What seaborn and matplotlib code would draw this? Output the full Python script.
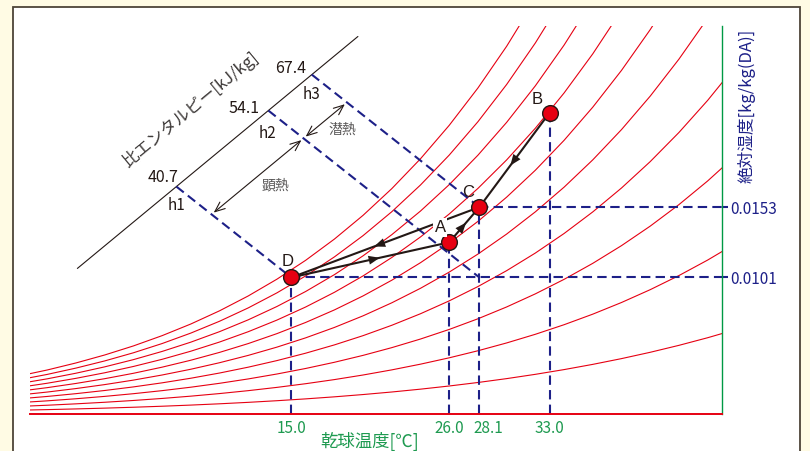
import numpy as np
import pandas as pd
import matplotlib
matplotlib.use('Agg')
import matplotlib.pyplot as plt
from matplotlib.patches import Rectangle
from matplotlib.transforms import ScaledTranslation
import seaborn as sns

# saturation vapour pressure over water [kPa] at dry-bulb temperature [C]
temp_table = [-4, -2, 0, 2, 4, 6, 8, 10, 12, 14, 16, 18, 20, 22, 24, 26, 28, 30, 32,
              34, 36, 38, 40, 42, 44, 46]
p_sat = [0.4547, 0.5276, 0.6113, 0.7060, 0.8135, 0.9353, 1.0729, 1.2281, 1.4027, 1.5989,
         1.8187, 2.0644, 2.3388, 2.6447, 2.9850, 3.3629, 3.7818, 4.2455, 4.7578, 5.3229,
         5.9453, 6.6298, 7.3814, 8.2054, 9.1075, 10.094]
rh_levels = [10, 20, 30, 40, 50, 60, 70, 80, 90, 100]

# state points
point_names = ['A', 'B', 'C', 'D']
point_temp = [26.0, 33.0, 28.1, 15.0]
point_hum = [0.0127, 0.0223, 0.0153, 0.0101]

# process lines (from, to)
process = [('D', 'A'), ('A', 'C'), ('B', 'C'), ('C', 'D')]

# specific enthalpy lines, and the state each one runs through (temperature of, humidity of)
enthalpy_values = [40.7, 54.1, 67.4]
enthalpy_names = ['h1', 'h2', 'h3']
enthalpy_through = [('D', 'D'), ('C', 'D'), ('C', 'C')]
heat_names = ['顕熱', '潜熱']

x_ticks = [15.0, 26.0, 28.1, 33.0]
y_ticks = [0.0101, 0.0153]

# colours / layout
RED = '#E60012'
NAVY = '#1D2088'
GREEN = '#1E9A50'
INK = '#231815'
GREY = '#595757'
CREAM = '#FFFBE4'
P_ATM = 101.325
X_LIM = (-3.2, 45.0)
Y_LIM = (0.0, 0.0287)
ENTH_AXIS_A, ENTH_AXIS_B = 0.01068, 0.000878   # enthalpy scale line: w = a + b*T
ENTH_AXIS_T = (0.1, 19.64)
ENTH_SLOPE = -0.00084                           # slope of constant enthalpy lines
ARROW_SHIFT = -0.00421                          # heat arrows run parallel to the scale
DASH = (0, (4.5, 2.5))

# relative humidity curves
rows = []
for rh in rh_levels:
    for t, ps in zip(temp_table, p_sat):
        pv = rh / 100 * ps
        rows.append({'rh': rh, 'temp': t, 'hum': 0.622 * pv / (P_ATM - pv)})
curves = pd.DataFrame(rows)

sns.set_theme(style='white')
plt.rcParams['font.family'] = ['Noto Sans CJK JP', 'DejaVu Sans']

fig = plt.figure(figsize=(8.1, 4.51), dpi=100, facecolor=CREAM)
fig.patches.append(Rectangle((13 / 810, -0.05), 787 / 810, 1.05 - 6.5 / 451,
                             transform=fig.transFigure, facecolor='white',
                             edgecolor='#4d4438', lw=1.3, zorder=-1))
ax = fig.add_axes([30 / 810, 1 - 414 / 451, 692 / 810, 388 / 451])
ax.set_facecolor('white')

sns.lineplot(data=curves, x='temp', y='hum', units='rh', estimator=None, sort=False,
             color=RED, lw=0.8, ax=ax, zorder=1)

ax.set_xlim(*X_LIM)
ax.set_ylim(*Y_LIM)

for side in ['top', 'left']:
    ax.spines[side].set_visible(False)
ax.spines['bottom'].set_color(RED)
ax.spines['bottom'].set_linewidth(1.4)
ax.spines['right'].set_color('#009944')
ax.spines['right'].set_linewidth(1.0)

pt = dict(zip(point_names, zip(point_temp, point_hum)))

# guide lines down to the axis and across to the humidity scale
for t, w in zip(point_temp, point_hum):
    ax.plot([t, t], [0, w], color=NAVY, lw=1.5, ls=DASH, zorder=2)
for t, w in zip(point_temp, point_hum):
    if w in y_ticks:
        ax.plot([t, X_LIM[1]], [w, w], color=NAVY, lw=1.5, ls=DASH, zorder=2)

# enthalpy scale
t0, t1 = ENTH_AXIS_T
ax.plot([t0, t1], [ENTH_AXIS_A + ENTH_AXIS_B * t0, ENTH_AXIS_A + ENTH_AXIS_B * t1],
        color=INK, lw=0.8, zorder=2)
p0 = ax.transData.transform((t0, ENTH_AXIS_A + ENTH_AXIS_B * t0))
p1 = ax.transData.transform((t1, ENTH_AXIS_A + ENTH_AXIS_B * t1))
angle = np.degrees(np.arctan2(p1[1] - p0[1], p1[0] - p0[0]))
tm = (t0 + t1) / 2
ax.annotate('比エンタルピー[kJ/kg]', (tm, ENTH_AXIS_A + ENTH_AXIS_B * tm),
            xytext=(-19.8, 30.7), textcoords='offset points', rotation=angle,
            rotation_mode='anchor', ha='center', va='center', fontsize=12, color='#3e3a39')

value_offsets = [(-9.9, 6.8), (-17.6, 1.6), (-15.0, 4.6)]
name_offsets = [(0.3, -13.4), (-1.0, -16.8), (0.1, -14.5)]
arrow_pts = []
for val, name, (ts, ws), voff, noff in zip(enthalpy_values, enthalpy_names, enthalpy_through,
                                          value_offsets, name_offsets):
    tp, wp = pt[ts][0], pt[ws][1]
    ti = (wp - ENTH_SLOPE * tp - ENTH_AXIS_A) / (ENTH_AXIS_B - ENTH_SLOPE)
    wi = ENTH_AXIS_A + ENTH_AXIS_B * ti
    ax.plot([ti, tp], [wi, wp], color=NAVY, lw=1.5, ls=DASH, zorder=2)
    ax.annotate(f'{val:.1f}', (ti, wi), xytext=voff, textcoords='offset points',
                ha='center', va='center', fontsize=11.5, color=INK)
    ax.annotate(name, (ti, wi), xytext=noff, textcoords='offset points',
                ha='center', va='center', fontsize=11, color=INK)
    a2 = ENTH_AXIS_A + ARROW_SHIFT
    ta = (wp - ENTH_SLOPE * tp - a2) / (ENTH_AXIS_B - ENTH_SLOPE)
    arrow_pts.append((ta, a2 + ENTH_AXIS_B * ta))

heat_offsets = [(12.6, -6.8), (12.0, -6.8)]
for i, (label, off) in enumerate(zip(heat_names, heat_offsets)):
    s, e = arrow_pts[i], arrow_pts[i + 1]
    ax.annotate('', xy=e, xytext=s,
                arrowprops=dict(arrowstyle='<->,head_length=0.6,head_width=0.25', color=INK,
                                lw=0.8, shrinkA=2, shrinkB=2, mutation_scale=12))
    ax.annotate(label, ((s[0] + e[0]) / 2, (s[1] + e[1]) / 2), xytext=off,
                textcoords='offset points', ha='center', va='center', fontsize=10, color=GREY)

# process lines with direction heads
for a, b in process:
    (ta, wa), (tb, wb) = pt[a], pt[b]
    ax.plot([ta, tb], [wa, wb], color=INK, lw=1.5, zorder=4)
    tip = (ta + 0.56 * (tb - ta), wa + 0.56 * (wb - wa))
    tail = (ta + 0.44 * (tb - ta), wa + 0.44 * (wb - wa))
    ax.annotate('', xy=tip, xytext=tail, zorder=5,
                arrowprops=dict(arrowstyle='-|>,head_length=0.5,head_width=0.2', color=INK,
                                lw=0, mutation_scale=16, shrinkA=0, shrinkB=0))

sns.scatterplot(x=point_temp, y=point_hum, s=128, color=RED, edgecolor=INK, linewidth=1,
                zorder=6, ax=ax, legend=False)

label_offsets = {'A': (-6.5, 10.6), 'B': (-8.9, 9.4), 'C': (-7.9, 10.8), 'D': (-2.9, 11.3)}
for name, t, w in zip(point_names, point_temp, point_hum):
    box = dict(boxstyle='square,pad=0.1', fc='white', ec='none') if name == 'A' else None
    ax.annotate(name, (t, w), xytext=label_offsets[name], textcoords='offset points',
                ha='center', va='center', fontsize=12, family='Liberation Sans', color=INK,
                bbox=box, zorder=7)

# axes ticks and labels
ax.set_xticks(x_ticks, labels=[f'{t:.1f}' for t in x_ticks])
ax.tick_params(axis='x', length=0, pad=4, labelcolor=GREEN, labelsize=11)
for lab in ax.get_xticklabels():
    if lab.get_text() == '28.1':
        lab.set_transform(lab.get_transform() + ScaledTranslation(0.085, 0, fig.dpi_scale_trans))

ax.yaxis.tick_right()
ax.set_yticks(y_ticks, labels=[f'{w:.4f}' for w in y_ticks])
ax.tick_params(axis='y', right=True, left=False, length=4, width=1.5, color=NAVY,
               labelcolor=NAVY, labelsize=11, pad=2)

ax.set_xlabel('乾球温度[℃]', color=GREEN, fontsize=12.5)
ax.xaxis.set_label_coords(0.491, -0.0696)
ax.xaxis.label.set_va('center')

ax.yaxis.set_label_position('right')
ax.set_ylabel('絶対湿度[kg/kg(DA)]', color=NAVY, fontsize=12, rotation=90)
ax.yaxis.set_label_coords(1.0357, 0.794)
ax.yaxis.label.set_va('center')
ax.yaxis.label.set_ha('center')

fig.savefig('out.png', dpi=100, facecolor=CREAM)
